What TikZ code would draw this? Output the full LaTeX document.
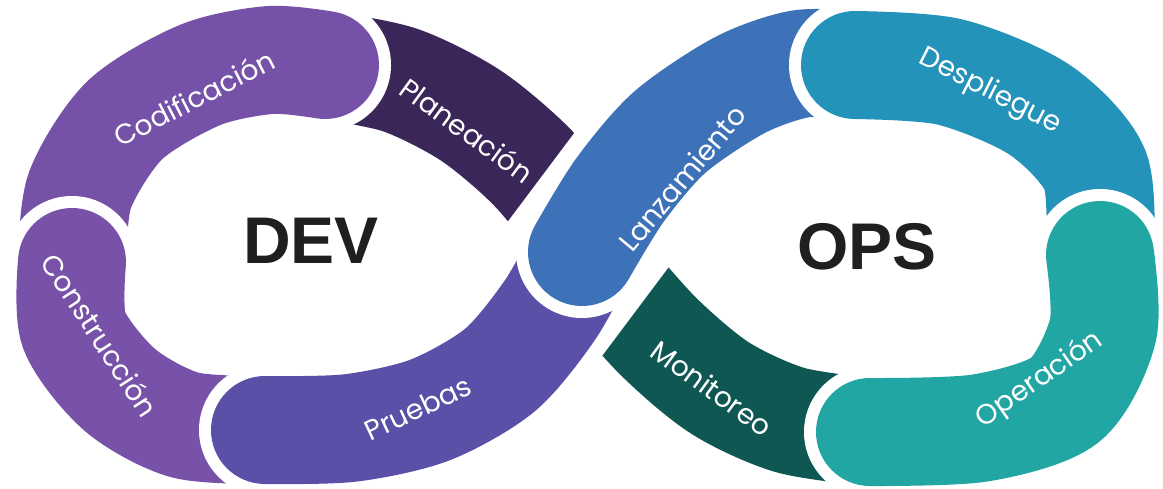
\documentclass[tikz,border=0pt]{standalone}
\usepackage{fontspec}
\setmainfont{Liberation Sans}
\newfontfamily\stagefont{Poppins}

\definecolor{codif}{HTML}{7651A8}
\definecolor{constr}{HTML}{7852A9}
\definecolor{plan}{HTML}{3B2659}
\definecolor{prueb}{HTML}{5A50A8}
\definecolor{lanz}{HTML}{3D71B8}
\definecolor{despl}{HTML}{2493BA}
\definecolor{oper}{HTML}{22A6A3}
\definecolor{monit}{HTML}{0F5752}

\tikzset{
  band/.style={draw=white, line width=12pt, double distance=108pt, line cap=round},
  stage/.style={text=white, font=\stagefont\fontsize{28}{28}\selectfont},
  core/.style={text=black!88, font=\bfseries\fontsize{66}{66}\selectfont},
}

\begin{document}
\begin{tikzpicture}[x=1pt, y=-1pt]
\useasboundingbox (0,0) rectangle (1163,488);

% the two pieces that run under the crossing
\draw[band, double=plan] plot[smooth] coordinates {(325,65) (400,80) (470,115) (530,165) (580,224)};
\draw[band, double=monit] plot[smooth] coordinates {(598,268) (658,336) (720,388) (790,420) (870,432)};
\draw[white, line width=156pt] (524,330) -- (674,130);

% DEV loop
\draw[band, double=codif] plot[smooth] coordinates {(72,262) (80,190) (125,120) (200,75) (270,60) (325,65)};
\draw[band, double=constr] plot[smooth] coordinates {(72,262) (74,330) (120,390) (185,425) (265,430)};
\draw[band, double=prueb] plot[smooth] coordinates {(265,430) (350,428) (430,410) (500,370) (550,310) (582,252)};

% OPS loop
\draw[band, double=lanz] plot[smooth] coordinates {(582,252) (620,190) (670,132) (740,85) (800,64) (855,65)};
\draw[band, double=despl] plot[smooth] coordinates {(855,65) (950,72) (1040,110) (1095,170) (1100,255)};
\draw[band, double=oper] plot[smooth] coordinates {(1100,255) (1103,330) (1065,400) (980,428) (870,432)};

% labels
\node[stage, rotate=27] (codif-txt) at (194,98) {Codificación};
\node[stage, rotate=-36] (plan-txt) at (467,130) {Planeación};
\node[stage, rotate=-57] (constr-txt) at (100,335) {Construcción};
\node[stage, rotate=25] (prueb-txt) at (418,408) {Pruebas};
\node[stage, rotate=50] (lanz-txt) at (682,178) {Lanzamiento};
\node[stage, rotate=-27] (despl-txt) at (990,92) {Despliegue};
\node[stage, rotate=35] (oper-txt) at (1040,380) {Operación};
\node[stage, rotate=-36] (monit-txt) at (712,388) {Monitoreo};

\node[core] (dev) at (311,241) {DEV};
\node[core] (ops) at (867,247) {OPS};
\end{tikzpicture}
\end{document}
